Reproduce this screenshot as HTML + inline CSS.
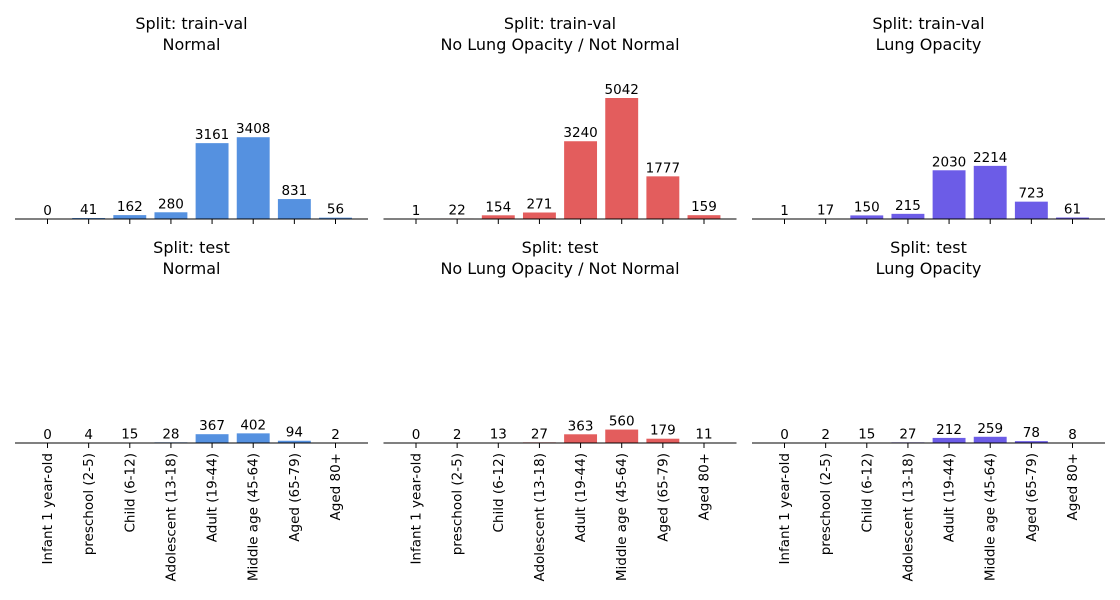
<!DOCTYPE html>
<html><head><meta charset="utf-8"><style>
body{margin:0;background:#fff;}
svg{display:block;font-family:"DejaVu Sans","Liberation Sans",sans-serif;}
</style></head><body>
<svg id="chart" width="1120" height="600" viewBox="0 0 1120 600"></svg>
<script>
const categories = ["Infant 1 year-old","preschool (2-5)","Child (6-12)","Adolescent (13-18)","Adult (19-44)","Middle age (45-64)","Aged (65-79)","Aged 80+"];
const trainNormal = [0,41,162,280,3161,3408,831,56];
const trainNotNormal = [1,22,154,271,3240,5042,1777,159];
const trainOpacity = [1,17,150,215,2030,2214,723,61];
const testNormal = [0,4,15,28,367,402,94,2];
const testNotNormal = [0,2,13,27,363,560,179,11];
const testOpacity = [0,2,15,27,212,259,78,8];
const splits = ["train-val","test"];
const classes = ["Normal","No Lung Opacity / Not Normal","Lung Opacity"];
const colors = ["#5591e0","#e35d5d","#6c5ce7"];
const seriesGrid = [[trainNormal,trainNotNormal,trainOpacity],[testNormal,testNotNormal,testOpacity]];

const svg = document.getElementById('chart');
const NS = "http://www.w3.org/2000/svg";
function mk(tag, attrs, parent){const e=document.createElementNS(NS,tag);for(const k in attrs)e.setAttribute(k,attrs[k]);(parent||svg).appendChild(e);return e;}
const colLeft=[15,383.5,752], axW=353, baselines=[219,443];
const maxV = Math.max(...seriesGrid.flat(2));
const pxPerUnit = 121/maxV;
for(let r=0;r<2;r++){
  for(let c=0;c<3;c++){
    const g = mk('g',{});
    
    
    const x0=colLeft[c], base=baselines[r];
    const step = axW/8.58;
    const xs = i => x0 + (i+0.79)*step;
    const ys = v => base - v*pxPerUnit;
    const cx = x0+axW/2;
    const t1 = mk('text',{x:cx,y:base-190,'text-anchor':'middle','font-size':16,fill:'#000'},g);
    t1.textContent='Split: '+splits[r];
    
    
    const t2 = mk('text',{x:cx,y:base-169,'text-anchor':'middle','font-size':16,fill:'#000'},g);
    t2.textContent=classes[c];
    
    
    const data = seriesGrid[r][c];
    data.forEach((v,i)=>{
      const bw = step*0.8;
      const rect = mk('rect',{x:xs(i)-bw/2,y:ys(v),width:bw,height:base-ys(v),fill:colors[c]},g);
      
      
      const lbl = mk('text',{x:xs(i),y:ys(v)-4,'text-anchor':'middle','font-size':13.5,fill:'#000'},g);
      lbl.textContent=v;
      
      
      const tk = mk('line',{x1:xs(i),x2:xs(i),y1:base,y2:base+5,stroke:'#000','stroke-width':1},g);
      
      
      if(r===1){
        const tl = mk('text',{x:0,y:0,'text-anchor':'end','font-size':13.5,fill:'#000',transform:`translate(${xs(i)+4.5},${base+10}) rotate(-90)`},g);
        tl.textContent=categories[i];
        
        
      }
    });
    const ax = mk('line',{x1:x0,x2:x0+axW,y1:base,y2:base,stroke:'#000','stroke-width':1},g);
    
    
  }
}
</script>
</body></html>
